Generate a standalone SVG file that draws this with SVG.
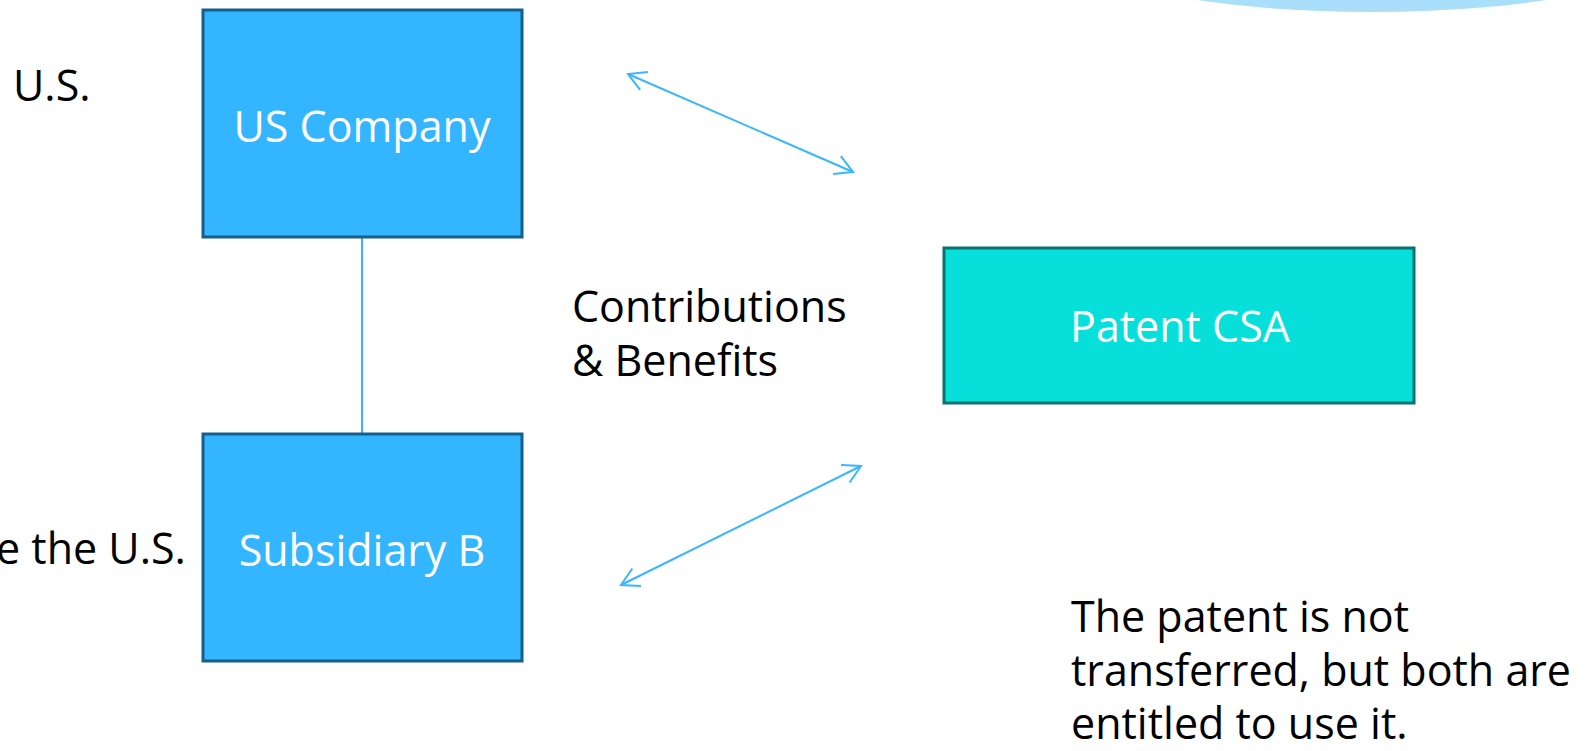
<svg xmlns="http://www.w3.org/2000/svg" width="1587" height="751" viewBox="0 0 1587 751">
<style>
.t{font-family:"Open Sans","Noto Sans",sans-serif;font-size:43px;fill:#000}
.w{font-family:"Open Sans","Noto Sans",sans-serif;font-size:43px;fill:#fff;text-anchor:middle}
.box{fill:#33b5ff;stroke:#155f8c;stroke-width:3}
.csa{fill:#07e0da;stroke:#0b726f;stroke-width:3}
.con{stroke:#38b6ff;stroke-width:2;fill:none}
</style>
<defs>
<marker id="ah" viewBox="-22 -12 24 24" refX="0" refY="0" markerWidth="24" markerHeight="24" markerUnits="userSpaceOnUse" orient="auto-start-reverse">
<path d="M-17.5,-9.7 L0,0 L-17.5,9.7" fill="none" stroke="#38b6ff" stroke-width="2"/>
</marker>
</defs>
<ellipse cx="1372" cy="-50" rx="295" ry="62" fill="#aadffb"/>
<g id="connectors">
<line class="con" x1="362" y1="237" x2="362" y2="434"/>
<line class="con" x1="628" y1="74" x2="853" y2="172" marker-start="url(#ah)" marker-end="url(#ah)"/>
<line class="con" x1="861" y1="466" x2="621" y2="585" marker-start="url(#ah)" marker-end="url(#ah)"/>
</g>
<g id="us-company">
<rect class="box" x="203" y="10" width="319" height="227"/>
<text class="w" x="362" y="142">US Company</text>
</g>
<g id="subsidiary-b">
<rect class="box" x="203" y="434" width="319" height="227"/>
<text class="w" x="362" y="566">Subsidiary B</text>
</g>
<g id="patent-csa">
<rect class="csa" x="944" y="248" width="470" height="155"/>
<text class="w" x="1180" y="342">Patent CSA</text>
</g>
<g id="labels">
<text class="t" x="13" y="101">U.S.</text>
<text class="t" x="-4" y="564">e the U.S.</text>
<text class="t" x="572" y="322">Contributions<tspan x="572" y="376">&amp; Benefits</tspan></text>
<text class="t" x="1071" y="632">The patent is not<tspan x="1071" y="686">transferred, but both are</tspan><tspan x="1071" y="739">entitled to use it.</tspan></text>
</g>
</svg>
